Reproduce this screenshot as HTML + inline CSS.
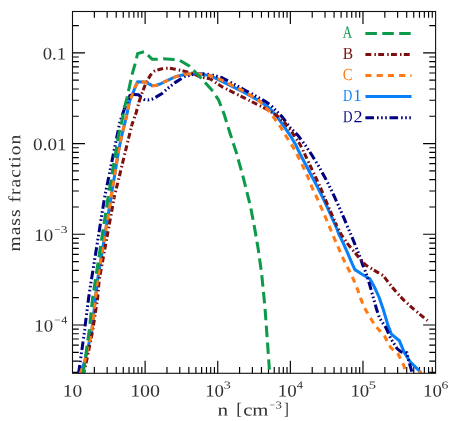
<!DOCTYPE html><html><head><meta charset="utf-8"><style>html,body{margin:0;padding:0;background:#fff}svg{display:block}text{font-family:"Liberation Serif",serif;fill:#303030;text-rendering:geometricPrecision}.t{opacity:.999}</style></head><body>
<svg width="457" height="421" viewBox="0 0 457 421">
<rect width="457" height="421" fill="#fff"/>
<defs><clipPath id="cp"><rect x="72.5" y="11.5" width="363.1" height="361.8"/></clipPath></defs>
<path d="M94.36,373.3 v-6.3 M94.36,11.5 v6.3 M107.15,373.3 v-6.3 M107.15,11.5 v6.3 M116.22,373.3 v-6.3 M116.22,11.5 v6.3 M123.26,373.3 v-6.3 M123.26,11.5 v6.3 M129.01,373.3 v-6.3 M129.01,11.5 v6.3 M133.87,373.3 v-6.3 M133.87,11.5 v6.3 M138.08,373.3 v-6.3 M138.08,11.5 v6.3 M141.80,373.3 v-6.3 M141.80,11.5 v6.3 M145.12,373.3 v-12.5 M145.12,11.5 v12.5 M166.98,373.3 v-6.3 M166.98,11.5 v6.3 M179.77,373.3 v-6.3 M179.77,11.5 v6.3 M188.84,373.3 v-6.3 M188.84,11.5 v6.3 M195.88,373.3 v-6.3 M195.88,11.5 v6.3 M201.63,373.3 v-6.3 M201.63,11.5 v6.3 M206.49,373.3 v-6.3 M206.49,11.5 v6.3 M210.70,373.3 v-6.3 M210.70,11.5 v6.3 M214.42,373.3 v-6.3 M214.42,11.5 v6.3 M217.74,373.3 v-12.5 M217.74,11.5 v12.5 M239.60,373.3 v-6.3 M239.60,11.5 v6.3 M252.39,373.3 v-6.3 M252.39,11.5 v6.3 M261.46,373.3 v-6.3 M261.46,11.5 v6.3 M268.50,373.3 v-6.3 M268.50,11.5 v6.3 M274.25,373.3 v-6.3 M274.25,11.5 v6.3 M279.11,373.3 v-6.3 M279.11,11.5 v6.3 M283.32,373.3 v-6.3 M283.32,11.5 v6.3 M287.04,373.3 v-6.3 M287.04,11.5 v6.3 M290.36,373.3 v-12.5 M290.36,11.5 v12.5 M312.22,373.3 v-6.3 M312.22,11.5 v6.3 M325.01,373.3 v-6.3 M325.01,11.5 v6.3 M334.08,373.3 v-6.3 M334.08,11.5 v6.3 M341.12,373.3 v-6.3 M341.12,11.5 v6.3 M346.87,373.3 v-6.3 M346.87,11.5 v6.3 M351.73,373.3 v-6.3 M351.73,11.5 v6.3 M355.94,373.3 v-6.3 M355.94,11.5 v6.3 M359.66,373.3 v-6.3 M359.66,11.5 v6.3 M362.98,373.3 v-12.5 M362.98,11.5 v12.5 M384.84,373.3 v-6.3 M384.84,11.5 v6.3 M397.63,373.3 v-6.3 M397.63,11.5 v6.3 M406.70,373.3 v-6.3 M406.70,11.5 v6.3 M413.74,373.3 v-6.3 M413.74,11.5 v6.3 M419.49,373.3 v-6.3 M419.49,11.5 v6.3 M424.35,373.3 v-6.3 M424.35,11.5 v6.3 M428.56,373.3 v-6.3 M428.56,11.5 v6.3 M432.28,373.3 v-6.3 M432.28,11.5 v6.3 M72.5,372.42 h6.3 M435.6,372.42 h-6.3 M72.5,361.09 h6.3 M435.6,361.09 h-6.3 M72.5,352.30 h6.3 M435.6,352.30 h-6.3 M72.5,345.11 h6.3 M435.6,345.11 h-6.3 M72.5,339.04 h6.3 M435.6,339.04 h-6.3 M72.5,333.78 h6.3 M435.6,333.78 h-6.3 M72.5,329.14 h6.3 M435.6,329.14 h-6.3 M72.5,324.99 h12.5 M435.6,324.99 h-12.5 M72.5,297.68 h6.3 M435.6,297.68 h-6.3 M72.5,281.71 h6.3 M435.6,281.71 h-6.3 M72.5,270.38 h6.3 M435.6,270.38 h-6.3 M72.5,261.59 h6.3 M435.6,261.59 h-6.3 M72.5,254.40 h6.3 M435.6,254.40 h-6.3 M72.5,248.33 h6.3 M435.6,248.33 h-6.3 M72.5,243.07 h6.3 M435.6,243.07 h-6.3 M72.5,238.43 h6.3 M435.6,238.43 h-6.3 M72.5,234.28 h12.5 M435.6,234.28 h-12.5 M72.5,206.97 h6.3 M435.6,206.97 h-6.3 M72.5,191.00 h6.3 M435.6,191.00 h-6.3 M72.5,179.67 h6.3 M435.6,179.67 h-6.3 M72.5,170.88 h6.3 M435.6,170.88 h-6.3 M72.5,163.69 h6.3 M435.6,163.69 h-6.3 M72.5,157.62 h6.3 M435.6,157.62 h-6.3 M72.5,152.36 h6.3 M435.6,152.36 h-6.3 M72.5,147.72 h6.3 M435.6,147.72 h-6.3 M72.5,143.57 h12.5 M435.6,143.57 h-12.5 M72.5,116.26 h6.3 M435.6,116.26 h-6.3 M72.5,100.29 h6.3 M435.6,100.29 h-6.3 M72.5,88.96 h6.3 M435.6,88.96 h-6.3 M72.5,80.17 h6.3 M435.6,80.17 h-6.3 M72.5,72.98 h6.3 M435.6,72.98 h-6.3 M72.5,66.91 h6.3 M435.6,66.91 h-6.3 M72.5,61.65 h6.3 M435.6,61.65 h-6.3 M72.5,57.01 h6.3 M435.6,57.01 h-6.3 M72.5,52.86 h12.5 M435.6,52.86 h-12.5 M72.5,25.55 h6.3 M435.6,25.55 h-6.3" stroke="#000" stroke-width="1.15" fill="none"/>
<g clip-path="url(#cp)" fill="none" stroke-linejoin="miter" stroke-miterlimit="3">
<path d="M79.5,376.0 L80.8,372.0 L84.7,361.5 L89.0,343.1 L91.9,330.0 L95.5,298.0 L97.4,281.0 L111.0,197.4 L118.6,150.7 L121.9,134.9 L126.1,117.9 L129.7,100.6 L132.6,94.0 L135.6,86.0 L137.7,81.8 L143.9,81.9 L148.0,83.3 L152.3,85.6 L156.0,85.5 L161.0,83.6 L165.0,81.5 L175.6,76.6 L186.6,73.9 L197.5,73.9 L210.0,75.5 L221.9,81.3 L243.8,92.2 L262.0,102.5 L270.3,108.9 L278.1,118.1 L284.7,127.3 L291.3,137.2 L295.8,145.0 L300.5,154.8 L306.4,166.0 L312.3,177.2 L317.5,187.0 L322.1,196.2 L327.3,207.3 L332.6,219.1 L337.0,229.0 L338.8,234.2 L343.4,243.4 L348.0,253.9 L351.9,263.1 L354.9,269.6 L362.0,274.3 L369.9,278.8 L374.5,287.3 L379.1,297.2 L383.1,309.0 L387.9,325.0 L391.4,334.2 L399.4,340.8 L404.3,352.6 L410.2,361.8 L419.4,371.0 L421.5,374.0" stroke="#0a80f8" stroke-width="3.05"/>
<path d="M78.3,376.0 L78.8,372.0 L84.7,330.0 L85.3,324.4 L88.6,298.1 L90.6,285.0 L104.6,197.4 L119.8,122.5 L124.2,109.4" stroke="#000080" stroke-width="3.05" stroke-dasharray="8.493 2.963 1.580 2.469 1.580 2.469 1.580 2.666" stroke-dashoffset="21.28"/>
<path d="M124.2,109.4 L129.8,95.8 L133.6,94.4 L138.4,94.8 L141.0,96.9 L144.3,99.5 L148.0,99.9 L152.3,99.0 L155.5,97.4 L162.4,93.2 L167.5,88.6 L175.0,82.6 L184.4,76.6 L193.2,74.4 L204.1,73.9 L210.0,74.5" stroke="#000080" stroke-width="3.05" stroke-dasharray="8.493 2.963 1.580 2.469 1.580 2.469 1.580 2.666" stroke-dashoffset="4.79"/>
<path d="M210.0,74.5 L221.9,77.6 L243.8,89.5 L265.6,101.6 L271.6,106.1 L276.6,111.3 L282.1,116.8 L289.9,127.3 L297.8,135.2 L305.5,145.5 L311.7,154.8 L318.2,165.4 L324.8,177.2 L329.6,186.6 L334.5,196.8 L339.8,208.6 L344.4,219.1 L347.2,226.0 L351.3,235.5 L355.9,246.7 L359.8,256.5 L362.9,265.4 L366.0,272.9 L369.3,283.4 L372.6,295.2 L376.5,309.0 L379.5,318.0 L385.9,327.6 L390.5,338.1 L397.1,348.6 L401.0,351.9 L406.9,352.8 L408.2,359.1 L410.9,368.3 L412.4,374.0" stroke="#000080" stroke-width="3.05" stroke-dasharray="8.493 2.963 1.580 2.469 1.580 2.469 1.580 2.666" stroke-dashoffset="13.22"/>
<path d="M128.6,99.2 L129.8,95.8 L133.6,94.4 L134.6,94.5" stroke="#000080" stroke-width="3.05"/>
<path d="M83.0,376.0 L84.0,372.0 L86.7,360.2 L92.6,331.0 L97.6,298.0 L99.2,280.0 L114.2,197.4" stroke="#7d0f0f" stroke-width="3.05" stroke-dasharray="5.900 3.100 1.500 2.300" stroke-dashoffset="12.43"/>
<path d="M114.2,197.4 L131.9,124.7" stroke="#7d0f0f" stroke-width="3.05" stroke-dasharray="5.900 3.100 1.500 2.300" stroke-dashoffset="3.62"/>
<path d="M131.9,124.7 L136.0,113.3 L138.9,102.2 L142.0,93.2 L144.7,86.2 L147.4,80.3 L150.6,75.0 L154.4,71.2 L159.2,69.5 L163.3,68.4 L169.2,68.2 L175.1,69.2 L181.0,70.4 L187.1,72.0 L193.2,73.5 L200.0,76.9 L210.0,78.8" stroke="#7d0f0f" stroke-width="3.05" stroke-dasharray="5.900 3.100 1.500 2.300" stroke-dashoffset="2.15"/>
<path d="M210.0,78.8 L221.9,86.7 L243.8,97.7 L265.0,108.3 L276.8,115.5 L284.7,122.7 L292.6,133.2 L300.2,144.7 L305.1,154.8 L310.3,166.0 L315.6,177.2 L320.9,188.6 L325.3,199.4 L329.3,208.6 L333.2,217.8 L336.6,225.4" stroke="#7d0f0f" stroke-width="3.05" stroke-dasharray="5.823 3.060 1.480 2.270" stroke-dashoffset="2.69"/>
<path d="M336.6,225.4 L341.4,234.8 L347.3,243.4 L353.2,250.6 L359.1,257.8 L365.7,265.0 L375.2,270.9 L383.1,275.5 L389.6,284.0 L396.2,292.0 L403.5,299.9 L414.4,309.8 L427.5,320.6" stroke="#7d0f0f" stroke-width="3.05" stroke-dasharray="5.900 3.100 1.500 2.300" stroke-dashoffset="4.97"/>
<path d="M79.5,376.0 L80.8,372.0 L84.7,361.5 L89.0,343.1 L91.9,330.0 L95.5,298.0 L97.4,281.0 L111.0,197.4 L118.6,150.7 L121.9,134.9 L126.1,117.9" stroke="#ff7a14" stroke-width="3.05" stroke-dasharray="6.100 5.140" stroke-dashoffset="9.49"/>
<path d="M126.1,117.9 L129.7,100.6 L132.6,94.0 L135.6,86.0 L137.7,81.8 L143.9,81.9 L148.0,83.3 L152.3,85.6 L156.0,85.5 L161.0,83.6 L165.0,81.5 L175.6,76.6 L186.6,73.9" stroke="#ff7a14" stroke-width="3.05" stroke-dasharray="6.100 5.140" stroke-dashoffset="2.74"/>
<path d="M186.6,73.9 L197.5,73.9 L210.0,75.5" stroke="#ff7a14" stroke-width="3.05" stroke-dasharray="6.100 5.140" stroke-dashoffset="1.44"/>
<path d="M210.0,75.5 L221.9,80.2 L243.8,91.1 L260.0,101.5 L268.9,110.9 L274.2,118.1 L280.8,127.3 L286.7,137.2 L292.6,146.4 L297.9,156.2 L303.1,166.7 L307.7,176.5 L312.0,187.4 L316.8,197.5 L321.4,208.0 L326.0,218.5 L329.8,227.7 L334.2,238.1 L338.8,248.6 L343.4,259.1 L348.0,268.3 L352.9,278.1 L357.5,289.3 L361.4,300.5 L365.7,310.0 L375.0,325.5 L384.6,336.2 L390.5,347.3 L398.4,354.5 L403.6,365.0 L406.5,374.0" stroke="#ff7a14" stroke-width="3.05" stroke-dasharray="6.100 5.140" stroke-dashoffset="2.72"/>
<path d="M82.9,376.0 L83.4,372.0 L89.3,330.0 L92.6,298.0 L95.4,280.0 L108.0,197.8 L116.0,150.7 L118.6,134.9 L122.6,117.9 L123.9,109.4 L127.1,97.6" stroke="#0c9b4a" stroke-width="3.05" stroke-dasharray="11.432 5.368" stroke-dashoffset="14.52"/>
<path d="M127.1,97.6 L129.8,85.0 L132.1,74.4 L135.1,63.9 L137.6,53.6 L144.3,51.6 L152.2,59.3 L157.4,59.3 L163.3,58.8 L173.8,59.6 L179.8,60.4 L189.7,66.2 L201.5,78.6 L212.7,91.1" stroke="#0c9b4a" stroke-width="3.05" stroke-dasharray="11.500 5.400" stroke-dashoffset="10.27"/>
<path d="M212.7,91.1 L218.6,100.0 L224.1,114.1 L229.3,131.0 L236.4,152.8 L243.5,178.4 L250.6,206.9 L254.9,229.6 L258.3,249.6 L261.6,273.3 L264.9,306.5 L267.3,339.8 L269.4,369.7" stroke="#0c9b4a" stroke-width="3.05" stroke-dasharray="11.500 5.400" stroke-dashoffset="11.27"/>
<path d="M419.3,370.9 L421.6,374.2" stroke="#ff7a14" stroke-width="3.05"/>
</g>
<rect x="72.5" y="11.5" width="363.1" height="361.8" fill="none" stroke="#111" stroke-width="1.1"/>
<path d="M365.4,33.4 H411.0" stroke="#0c9b4a" stroke-width="3.05" fill="none" stroke-dasharray="11.5 5.4"/>
<path d="M365.4,54.5 H409.7" stroke="#7d0f0f" stroke-width="3.05" fill="none" stroke-dasharray="5.9 3.1 1.5 2.3"/>
<path d="M365.4,75.5 H411.5" stroke="#ff7a14" stroke-width="3.05" fill="none" stroke-dasharray="6.1 5.14"/>
<path d="M365.4,96.5 H411.5" stroke="#0a80f8" stroke-width="3.05" fill="none"/>
<path d="M365.4,117.8 H411.0" stroke="#000080" stroke-width="3.05" fill="none" stroke-dasharray="8.6 3.0 1.6 2.5 1.6 2.5 1.6 2.7"/>
<g class="t">
<text transform="translate(342.81,37.70) rotate(0.2) scale(0.7583,1)" font-size="17" style="fill:#0c9b4a">A</text>
<text transform="translate(342.75,59.00) rotate(0.2) scale(0.9100,1)" font-size="17" style="fill:#7d0f0f">B</text>
<text transform="translate(342.77,80.00) rotate(0.2) scale(0.8607,1)" font-size="17" style="fill:#ff7a14">C</text>
<text transform="translate(342.92,100.90) rotate(0.2) scale(0.7554,1)" font-size="17" style="fill:#0a80f8">D</text>
<text transform="translate(353.22,100.90) rotate(0.2) scale(0.9833,1)" font-size="17" style="fill:#0a80f8">1</text>
<text transform="translate(342.91,122.30) rotate(0.2) scale(0.7734,1)" font-size="17" style="fill:#000080">D</text>
<text transform="translate(353.50,122.30) rotate(0.2) scale(1.0626,1)" font-size="17" style="fill:#000080">2</text>
<text transform="translate(42.72,59.36) rotate(0.2) scale(1.0640,1)" font-size="17.5">0.1</text>
<text transform="translate(33.11,150.07) rotate(0.2) scale(1.0878,1)" font-size="17.5">0.01</text>
<text transform="translate(34.24,240.88) rotate(0.2) scale(1.0772,1)" font-size="17.5">10</text>
<text transform="translate(54.28,232.88) rotate(0.2) scale(1.0400,1)" font-size="10.6">−</text>
<text transform="translate(60.86,232.88) rotate(0.2) scale(1.2785,1)" font-size="10.6">3</text>
<text transform="translate(34.24,331.59) rotate(0.2) scale(1.0772,1)" font-size="17.5">10</text>
<text transform="translate(54.28,323.59) rotate(0.2) scale(1.0400,1)" font-size="10.6">−</text>
<text transform="translate(61.21,323.59) rotate(0.2) scale(1.1499,1)" font-size="10.6">4</text>
<text transform="translate(62.79,396.50) rotate(0.2) scale(1.1098,1)" font-size="17.5">10</text>
<text transform="translate(130.14,396.50) rotate(0.2) scale(1.1385,1)" font-size="17.5">100</text>
<text transform="translate(205.18,396.50) rotate(0.2) scale(1.0772,1)" font-size="17.5">10</text>
<text transform="translate(223.68,388.60) rotate(0.2) scale(1.3242,1)" font-size="10.6">3</text>
<text transform="translate(277.80,396.50) rotate(0.2) scale(1.0772,1)" font-size="17.5">10</text>
<text transform="translate(296.66,388.60) rotate(0.2) scale(1.1910,1)" font-size="10.6">4</text>
<text transform="translate(350.42,396.50) rotate(0.2) scale(1.0772,1)" font-size="17.5">10</text>
<text transform="translate(368.74,388.60) rotate(0.2) scale(1.3615,1)" font-size="10.6">5</text>
<text transform="translate(423.04,396.50) rotate(0.2) scale(1.0772,1)" font-size="17.5">10</text>
<text transform="translate(441.56,388.60) rotate(0.2) scale(1.2889,1)" font-size="10.6">6</text>
<text transform="translate(217.43,415.50) rotate(0.2) scale(1.2452,1)" font-size="17">n</text>
<text transform="translate(236.30,414.60) rotate(0.2) scale(1.0400,1)" font-size="17">[</text>
<text transform="translate(243.15,415.50) rotate(0.2) scale(1.2173,1)" font-size="17">cm</text>
<text transform="translate(269.54,408.40) rotate(0.2) scale(0.9200,1)" font-size="10.6">−</text>
<text transform="translate(275.39,408.40) rotate(0.2) scale(1.2100,1)" font-size="10.6">3</text>
<text transform="translate(283.84,414.60) rotate(0.2) scale(0.9043,1)" font-size="17">]</text>
<text transform="translate(20.00,251.54) rotate(-89.8) scale(1.1468,1)" font-size="17"><tspan letter-spacing="0.9">mass fraction</tspan></text>
</g>
</svg></body></html>
